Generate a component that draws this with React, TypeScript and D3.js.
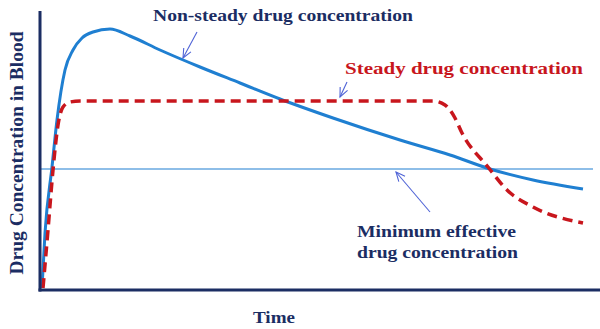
import React from "react";
import * as d3 from "d3";

const nonSteadyT = [0.2, 0.5, 1.2, 1.7, 2.5, 3.3, 4.2, 5.3, 7.0, 9.0, 12.0, 16.0, 20.0, 24.0, 29.3, 36.0, 41.0, 45.0, 49.3, 54.3];
const nonSteadyC = [0.2, 5.7, 12.3, 17.0, 22.0, 24.0, 25.2, 25.8, 26.1, 25.4, 24.0, 22.3, 20.7, 19.1, 17.2, 15.0, 13.5, 12.1, 11.0, 10.1];

const steadyT = [0.3, 0.8, 1.3, 1.8, 2.3, 3.0, 4.0, 39.3, 40.5, 41.5, 42.2, 44.8, 46.7, 49.3, 54.3];
const steadyC = [0.2, 6.0, 12.0, 16.5, 18.3, 18.8, 18.9, 18.9, 18.5, 17.2, 15.7, 12.3, 10.0, 8.3, 6.7];

const minEffective = 12.1;
const minEffectiveEnd = 55.3;

const labels = {
  nonSteady: "Non-steady drug concentration",
  steady: "Steady drug concentration",
  min1: "Minimum effective",
  min2: "drug concentration",
  xTitle: "Time",
  yTitle: "Drug Concentration in Blood",
};

const W = 600;
const H = 329;
const x = d3.scaleLinear().domain([0, 56]).range([40, 600]);
const y = d3.scaleLinear().domain([0, 28]).range([290, 10]);

const NAVY = "#1b2d63";
const BLUE = "#1f7fd1";
const RED = "#c8161d";
const ARROW = "#4f63d6";
const FONT = "'Liberation Serif', 'Times New Roman', serif";

function Arrow({ x1, y1, x2, y2 }: { x1: number; y1: number; x2: number; y2: number }) {
  const ang = Math.atan2(y2 - y1, x2 - x1);
  const L = 10;
  const a = 0.42;
  const h1 = [x2 - L * Math.cos(ang - a), y2 - L * Math.sin(ang - a)];
  const h2 = [x2 - L * Math.cos(ang + a), y2 - L * Math.sin(ang + a)];
  return (
    <g stroke={ARROW} strokeWidth={1.1} fill="none">
      <line x1={x1} y1={y1} x2={x2} y2={y2} />
      <polyline points={`${h1[0]},${h1[1]} ${x2},${y2} ${h2[0]},${h2[1]}`} />
    </g>
  );
}

export default function App() {
  const line = d3
    .line<[number, number]>()
    .x((d) => x(d[0]))
    .y((d) => y(d[1]))
    .curve(d3.curveMonotoneX);
  const blue = line(nonSteadyT.map((t, i) => [t, nonSteadyC[i]] as [number, number])) || "";
  const red = line(steadyT.map((t, i) => [t, steadyC[i]] as [number, number])) || "";

  const T = (props: any) => (
    <text lengthAdjust="spacingAndGlyphs" {...props} />
  );

  return (
    <div style={{ position: "fixed", left: 0, top: 0 }}>
      <svg width={W} height={H} style={{ display: "block", background: "#fff" }}>
        <line x1={x(0)} x2={x(minEffectiveEnd)} y1={y(minEffective)} y2={y(minEffective)} stroke={BLUE} strokeWidth={1.2} />
        <path d={blue} fill="none" stroke={BLUE} strokeWidth={3} strokeLinejoin="round" />
        <path d={red} fill="none" stroke={RED} strokeWidth={3.5} strokeDasharray="10 6" />
        <line x1={x(0)} x2={x(0)} y1={y(27.9)} y2={y(0) + 1.5} stroke={NAVY} strokeWidth={3} />
        <line x1={x(0) - 1.5} x2={W} y1={y(0)} y2={y(0)} stroke={NAVY} strokeWidth={3} />
        <Arrow x1={x(15.7)} y1={y(25.8)} x2={x(14.3)} y2={y(23.2)} />
        <Arrow x1={x(30.7)} y1={y(20.8)} x2={x(30.0)} y2={y(19.3)} />
        <Arrow x1={x(39.0)} y1={y(7.8)} x2={x(35.6)} y2={y(11.8)} />
        <g fontFamily={FONT} fontWeight="bold" fontSize={17}>
          <T x={153} y={21} fill={NAVY} textLength={260}>{labels.nonSteady}</T>
          <T x={345} y={74} fill={RED} textLength={238}>{labels.steady}</T>
          <T x={357} y={237} fill={NAVY} textLength={159}>{labels.min1}</T>
          <T x={357} y={258} fill={NAVY} textLength={161}>{labels.min2}</T>
          <T x={253} y={323} fill={NAVY} textLength={42}>{labels.xTitle}</T>
        </g>
        <T
          x={-153}
          y={23}
          transform="rotate(-90)"
          textAnchor="middle"
          fontFamily={FONT}
          fontWeight="bold"
          fontSize={18}
          fill={NAVY}
          textLength={243}
        >
          {labels.yTitle}
        </T>
      </svg>
    </div>
  );
}
